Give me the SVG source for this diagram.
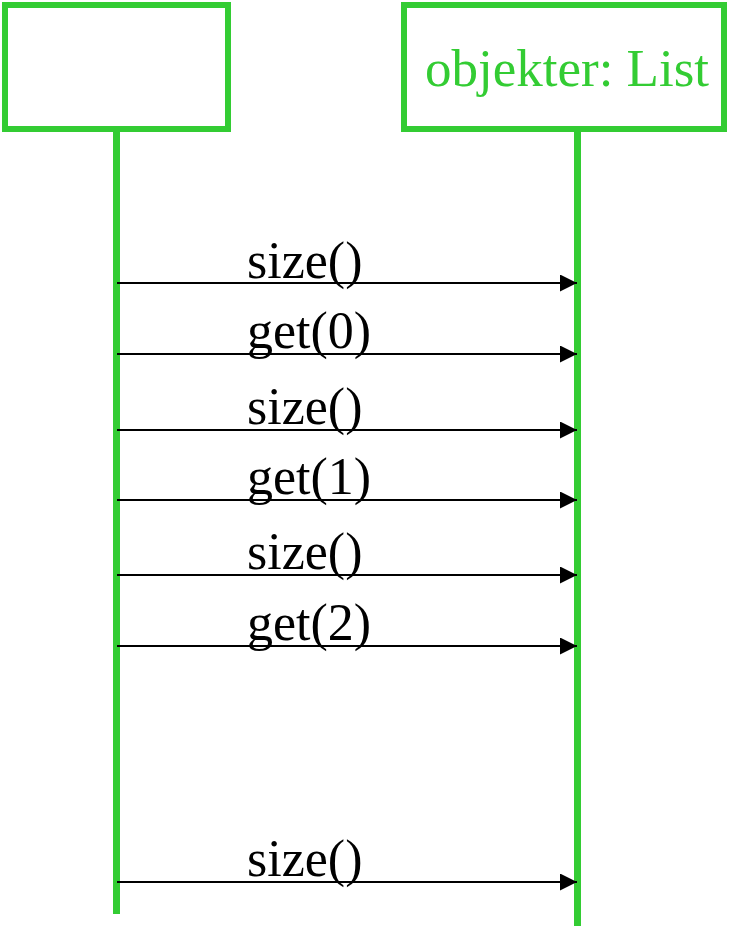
<svg xmlns="http://www.w3.org/2000/svg" width="730" height="926" viewBox="0 0 730 926">
<defs>
<style>
.box{fill:#fff;stroke:#33cc33;stroke-width:6}
.life{stroke:#33cc33;stroke-width:7;fill:none}
.msg{stroke:#000;stroke-width:2;fill:none;marker-end:url(#ah)}
.lbl{font-family:"Liberation Serif","Times New Roman",serif;font-size:52px;fill:#000}
.title{font-family:"Liberation Serif","Times New Roman",serif;font-size:53px;fill:#33cc33}
</style>
<marker id="ah" markerUnits="userSpaceOnUse" markerWidth="18" markerHeight="18" refX="17" refY="8.5" orient="auto">
<path d="M0,0 L17,8.5 L0,17 Z" fill="#000"/>
</marker>
</defs>
<g id="anon">
<rect class="box" x="5" y="5" width="223" height="124"/>
<line class="life" x1="116.5" y1="132" x2="116.5" y2="914"/>
</g>
<g id="objekter">
<rect class="box" x="404" y="5" width="320" height="124"/>
<text class="title" x="425" y="86">objekter: List</text>
<line class="life" x1="577.5" y1="132" x2="577.5" y2="926"/>
</g>
<g id="connectors">
<line class="msg" x1="117" y1="283" x2="577" y2="283"/>
<line class="msg" x1="117" y1="354" x2="577" y2="354"/>
<line class="msg" x1="117" y1="430" x2="577" y2="430"/>
<line class="msg" x1="117" y1="500" x2="577" y2="500"/>
<line class="msg" x1="117" y1="575" x2="577" y2="575"/>
<line class="msg" x1="117" y1="646" x2="577" y2="646"/>
<line class="msg" x1="117" y1="882" x2="577" y2="882"/>
<text class="lbl" x="247" y="278">size()</text>
<text class="lbl" x="247" y="348">get(0)</text>
<text class="lbl" x="247" y="424">size()</text>
<text class="lbl" x="247" y="494">get(1)</text>
<text class="lbl" x="247" y="569">size()</text>
<text class="lbl" x="247" y="640">get(2)</text>
<text class="lbl" x="247" y="876">size()</text>
</g>
</svg>
